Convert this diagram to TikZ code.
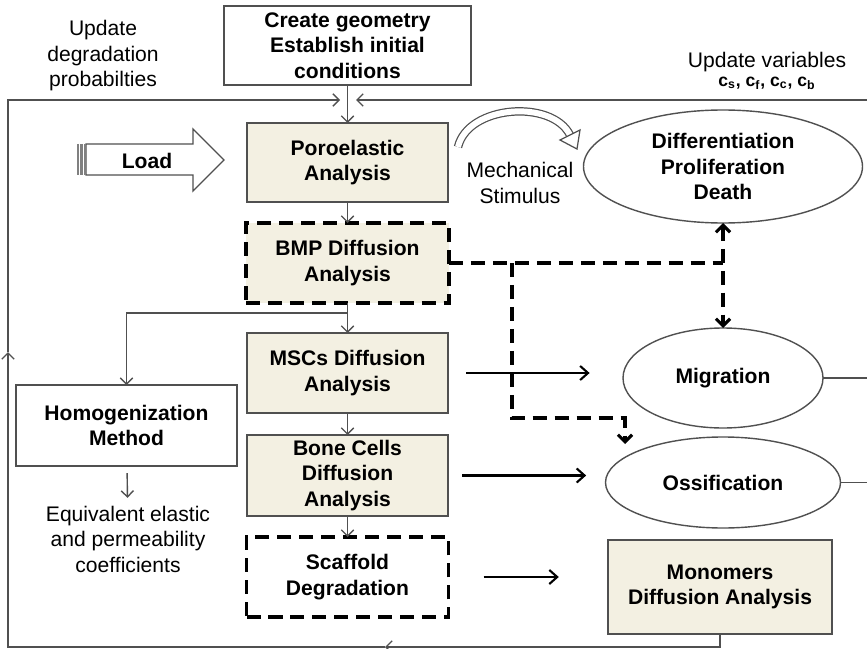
\documentclass[tikz,border=0pt]{standalone}
\usepackage{fontspec}
\setmainfont{Liberation Sans}
\usetikzlibrary{shapes.geometric, arrows.meta}

\definecolor{boxfill}{RGB}{243,240,226}
\definecolor{linegray}{RGB}{80,80,80}

\begin{document}
\begin{tikzpicture}[x=0.2mm, y=-0.2mm, font=\fontsize{12}{14.5}\selectfont]
\tikzstyle{every node}+=[inner sep=0pt, outer sep=0pt, align=center]
\tikzstyle{stage}=[draw=linegray, line width=0.8pt, fill=boxfill, font=\fontsize{12}{14.5}\selectfont\bfseries]
\tikzstyle{dstage}=[stage, draw=black, line width=2.2pt, dash pattern=on 8pt off 4.5pt]
\tikzstyle{event}=[ellipse, draw=linegray, line width=0.8pt, font=\fontsize{12}{14.5}\selectfont\bfseries]
\tikzstyle{link}=[draw=linegray, line width=0.8pt]
\tikzstyle{flow}=[link, -{Straight Barb[length=3.5pt,width=7pt]}]
\tikzstyle{feed}=[black, line width=1.2pt, -{Straight Barb[length=4.5pt,width=8pt]}]
\tikzstyle{signal}=[black, line width=2.2pt, dash pattern=on 8pt off 4.5pt]
\tikzset{sigtip/.tip={Straight Barb[length=4pt,width=8pt,line width=1.8pt]}}
\useasboundingbox (0,0) rectangle (867,649);

% boxes of the main column
\node[stage, fill=white, minimum width=4.94cm, minimum height=1.58cm] (create) at (347.5,45.5) {Create geometry\\Establish initial\\conditions};
\node[stage, minimum width=4.02cm, minimum height=1.58cm] (poro) at (347.5,162.5) {Poroelastic\\Analysis};
\node[dstage, minimum width=4.06cm, minimum height=1.6cm] (bmp) at (347.5,263) {BMP Diffusion\\Analysis};
\node[stage, minimum width=4.02cm, minimum height=1.6cm] (mscs) at (347.5,373) {MSCs Diffusion\\Analysis};
\node[stage, minimum width=4.02cm, minimum height=1.62cm] (bone) at (347.5,475.5) {Bone Cells\\Diffusion\\Analysis};
\node[dstage, fill=white, minimum width=4.04cm, minimum height=1.6cm] (scaffold) at (347.5,577) {Scaffold\\Degradation};
\node[stage, fill=white, minimum width=4.42cm, minimum height=1.62cm] (homog) at (126.5,425.5) {Homogenization\\Method};
\node[stage, minimum width=4.48cm, minimum height=1.88cm] (mono) at (720,587) {Monomers\\Diffusion Analysis};

% cell events
\node[event, minimum width=5.58cm, minimum height=2.26cm] (diff) at (723,166.5) {Differentiation\\Proliferation\\Death};
\node[event, minimum width=4cm, minimum height=2cm] (migr) at (723,378) {Migration};
\node[event, minimum width=4.7cm, minimum height=1.82cm] (ossi) at (723,482.5) {Ossification};

% plain labels
\node (upddeg) at (103,56) {Update\\degradation\\probabilties};
\node (updvar) at (767,62) {Update variables};
\node[font=\fontsize{10}{12}\selectfont\bfseries] (vars) at (767,83) {c\textsubscript{s}, c\textsubscript{f}, c\textsubscript{c}, c\textsubscript{b}};
\node (mech) at (520,183) {Mechanical\\Stimulus};
\node (equiv) at (128,539) {Equivalent elastic\\and permeability\\coefficients};

% load arrow
\draw[linegray, line width=0.8pt, fill=white] (86,144) -- (193,144) -- (193,129) -- (224,160) -- (193,191) -- (193,175) -- (86,175) -- cycle;
\foreach \sx in {78,81.5,85}
  \draw[gray, line width=1.3pt] (\sx,144) -- (\sx,175);
\node[font=\fontsize{12}{14.5}\selectfont\bfseries] (load) at (147,161) {Load};

% mechanical stimulus arrow
\draw[linegray, line width=4.8pt] (458,147) .. controls (468,105) and (552,99) .. (570,135);
\draw[white, line width=3.4pt] (458,147) .. controls (468,105) and (552,99) .. (570,135);
\draw[linegray, line width=0.7pt, fill=white] (580,130) -- (577,149) -- (560,140) -- cycle;

% main flow
\coordinate (split) at (347.5,313);
\draw[flow] (create) -- (poro);
\draw[flow] (poro) -- (bmp);
\draw[flow] (bmp) -- (mscs);
\draw[flow] (mscs) -- (bone);
\draw[flow] (bone) -- (scaffold);
\draw[flow] (split) -| (homog.north);
\draw[flow, shorten <=4pt, shorten >=4.5pt] (homog) -- (equiv);

% feedback loop
\coordinate (loopmid) at (385,647);
\coordinate (loopbl) at (8,647);
\coordinate (loopup) at (8,352);
\coordinate (topin) at (340,100);
\coordinate (topre) at (867,100);
\coordinate (topri) at (356,100);
\draw[flow] (mono.south) |- (loopmid);
\draw[flow] (loopmid) -- (loopbl) -- (loopup);
\draw[flow] (loopup) |- (topin);
\draw[flow] (topre) -- (topri);
\coordinate (migrend) at (867,378);
\coordinate (ossiend) at (867,482.5);
\draw[link] (migr.east) -- (migrend);
\draw[link] (ossi.east) -- (ossiend);

% results to events
\draw[feed, shorten <=10.5pt, shorten >=19pt] (mscs.east) -- (mscs.east -| migr.west);
\draw[feed, shorten <=8pt, shorten >=11pt] (bone.east) -- (bone.east -| ossi.west);
\draw[feed, shorten <=20pt, shorten >=28pt] (scaffold.east) -- (scaffold.east -| mono.west);

% BMP signal
\coordinate (sigA) at (512,263);
\coordinate (sigB) at (723,263);
\coordinate (sigC) at (625,418);
\coordinate (ossiin) at (625,444);
\draw[signal] (bmp.east) -- (sigB);
\draw[signal, sigtip-sigtip] (diff.south) -- (migr.north);
\draw[signal, -sigtip] (sigA) |- (sigC) -- (ossiin);
\end{tikzpicture}
\end{document}
